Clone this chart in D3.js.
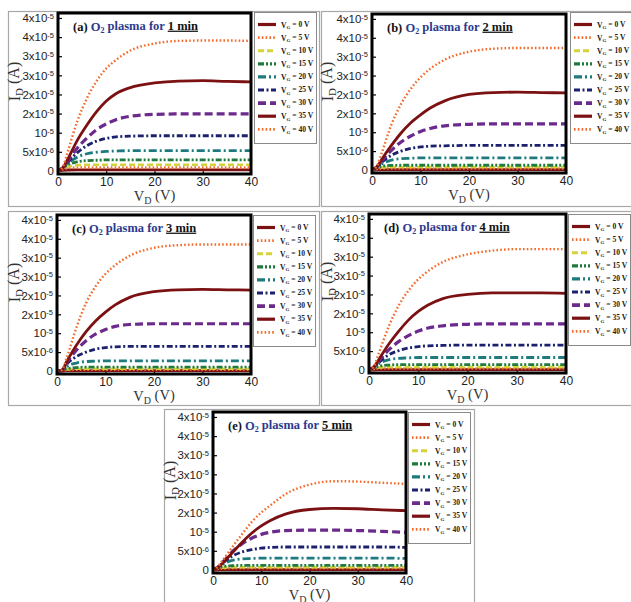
<!DOCTYPE html>
<html>
<head>
<meta charset="utf-8">
<script src="https://cdn.jsdelivr.net/npm/d3@7"></script>
<style>
  body { margin: 0; background: #fff; }
  text { font-family: "Liberation Sans", Arial, sans-serif; }
  .serif { font-family: "Liberation Serif", "Times New Roman", serif; }
</style>
</head>
<body>
<svg id="chart" width="631" height="602"></svg>
<script>
// drain voltage grid (V) and gate voltages
const VD = [0, 1, 2, 4, 6, 8, 10, 12, 15, 20, 25, 30, 35, 40];
const VG = [0, 5, 10, 15, 20, 25, 30, 35, 40];
const panelLetters = ["a", "b", "c", "d", "e"];
const plasmaMinutes = ["1", "2", "3", "4", "5"];
const xTicks = [0, 10, 20, 30, 40];
const yTicks = [0, 5, 10, 15, 20, 25, 30, 35, 40]; // µA
const yTickBase = ["0", "5x10", "10", "2x10", "2x10", "3x10", "3x10", "4x10", "4x10"];
const yTickExp = ["", "-6", "-5", "-5", "-5", "-5", "-5", "-5", "-5"];

// I_D in µA, one row per VG (0 .. 40 V)
const id1min = [
  [0, 0.15, 0.25, 0.3, 0.3, 0.3, 0.3, 0.3, 0.3, 0.3, 0.3, 0.3, 0.3, 0.3],
  [0, 0.4, 0.7, 0.9, 0.9, 0.9, 0.9, 0.9, 0.9, 0.9, 0.9, 0.9, 0.9, 0.9],
  [0, 0.6, 1.1, 1.5, 1.6, 1.6, 1.6, 1.6, 1.6, 1.6, 1.6, 1.6, 1.6, 1.6],
  [0, 0.8, 1.6, 2.4, 2.7, 2.8, 2.9, 2.9, 2.9, 2.9, 2.9, 2.9, 2.9, 2.9],
  [0, 0.8, 2.0, 3.6, 4.5, 4.9, 5.1, 5.2, 5.3, 5.3, 5.3, 5.3, 5.3, 5.3],
  [0, 0.8, 2.2, 4.8, 6.6, 7.8, 8.5, 8.9, 9.1, 9.2, 9.2, 9.2, 9.2, 9.2],
  [0, 0.8, 2.5, 6.0, 8.6, 10.8, 12.3, 13.4, 14.3, 14.8, 14.9, 14.9, 14.9, 14.9],
  [0, 0.8, 3.0, 8.0, 12.0, 15.5, 18.3, 20.2, 21.8, 23.0, 23.5, 23.6, 23.4, 23.3],
  [0, 1.0, 5.0, 13.0, 19.0, 23.5, 26.8, 29.0, 31.5, 33.3, 34.0, 34.1, 34.1, 34.0]
];
const id2min = [
  [0, 0.05, 0.1, 0.1, 0.1, 0.1, 0.1, 0.1, 0.1, 0.1, 0.1, 0.1, 0.1, 0.1],
  [0, 0.25, 0.35, 0.4, 0.4, 0.4, 0.4, 0.4, 0.4, 0.4, 0.4, 0.4, 0.4, 0.4],
  [0, 0.4, 0.65, 0.8, 0.8, 0.8, 0.8, 0.8, 0.8, 0.8, 0.8, 0.8, 0.8, 0.8],
  [0, 0.6, 1.0, 1.2, 1.25, 1.25, 1.25, 1.25, 1.25, 1.25, 1.25, 1.25, 1.25, 1.25],
  [0, 0.7, 1.6, 2.6, 3.0, 3.1, 3.2, 3.2, 3.2, 3.2, 3.2, 3.2, 3.2, 3.2],
  [0, 0.8, 2.0, 3.9, 5.0, 5.7, 6.1, 6.3, 6.4, 6.5, 6.5, 6.5, 6.5, 6.5],
  [0, 0.8, 2.4, 5.2, 7.4, 9.0, 10.2, 11.0, 11.7, 12.1, 12.2, 12.2, 12.2, 12.2],
  [0, 0.8, 2.8, 6.5, 9.8, 12.5, 14.6, 16.4, 18.3, 20.0, 20.5, 20.6, 20.5, 20.4],
  [0, 1.0, 4.5, 12.0, 17.5, 21.5, 24.5, 26.8, 29.2, 31.3, 32.1, 32.3, 32.3, 32.3]
];
const id3min = [
  [0, 0.0, 0.1, 0.1, 0.1, 0.1, 0.1, 0.1, 0.1, 0.1, 0.1, 0.1, 0.1, 0.1],
  [0, 0.05, 0.2, 0.3, 0.3, 0.3, 0.3, 0.3, 0.3, 0.3, 0.3, 0.3, 0.3, 0.3],
  [0, 0.1, 0.4, 0.6, 0.6, 0.6, 0.6, 0.6, 0.6, 0.6, 0.6, 0.6, 0.6, 0.6],
  [0, 0.1, 0.6, 0.9, 1.0, 1.0, 1.0, 1.0, 1.0, 1.0, 1.0, 1.0, 1.0, 1.0],
  [0, 0.2, 1.2, 2.1, 2.5, 2.6, 2.7, 2.7, 2.7, 2.7, 2.7, 2.7, 2.7, 2.7],
  [0, 0.2, 1.8, 3.8, 5.0, 5.8, 6.2, 6.4, 6.5, 6.5, 6.5, 6.5, 6.5, 6.5],
  [0, 0.2, 2.2, 5.5, 8.0, 9.8, 11.0, 11.8, 12.3, 12.5, 12.5, 12.5, 12.5, 12.5],
  [0, 0.2, 2.5, 6.8, 10.4, 13.3, 15.6, 17.5, 19.5, 21.0, 21.5, 21.6, 21.5, 21.4],
  [0, 0.3, 3.5, 11.5, 18.0, 22.5, 25.7, 28.0, 30.5, 32.6, 33.3, 33.5, 33.5, 33.5]
];
const id4min = [
  [0, 0.05, 0.1, 0.1, 0.1, 0.1, 0.1, 0.1, 0.1, 0.1, 0.1, 0.1, 0.1, 0.1],
  [0, 0.25, 0.35, 0.4, 0.4, 0.4, 0.4, 0.4, 0.4, 0.4, 0.4, 0.4, 0.4, 0.4],
  [0, 0.4, 0.65, 0.8, 0.8, 0.8, 0.8, 0.8, 0.8, 0.8, 0.8, 0.8, 0.8, 0.8],
  [0, 0.6, 1.0, 1.3, 1.4, 1.4, 1.4, 1.4, 1.4, 1.4, 1.4, 1.4, 1.4, 1.4],
  [0, 0.7, 1.7, 2.7, 3.1, 3.2, 3.3, 3.3, 3.3, 3.3, 3.3, 3.3, 3.3, 3.3],
  [0, 0.8, 2.0, 4.0, 5.1, 5.8, 6.2, 6.4, 6.5, 6.6, 6.6, 6.6, 6.6, 6.6],
  [0, 0.8, 2.4, 5.3, 7.5, 9.1, 10.3, 11.1, 11.7, 12.1, 12.2, 12.2, 12.2, 12.2],
  [0, 0.8, 2.8, 6.8, 10.2, 13.2, 15.5, 17.2, 18.9, 20.0, 20.4, 20.4, 20.4, 20.3],
  [0, 1.0, 4.5, 11.5, 17.0, 21.0, 24.0, 26.2, 28.6, 30.6, 31.6, 32.0, 32.0, 32.0]
];
const id5min = [
  [0, 0.05, 0.1, 0.1, 0.1, 0.1, 0.1, 0.1, 0.1, 0.1, 0.1, 0.1, 0.1, 0.1],
  [0, 0.25, 0.35, 0.4, 0.4, 0.4, 0.4, 0.4, 0.4, 0.4, 0.4, 0.4, 0.4, 0.4],
  [0, 0.4, 0.6, 0.7, 0.7, 0.7, 0.7, 0.7, 0.7, 0.7, 0.7, 0.7, 0.7, 0.7],
  [0, 0.6, 0.9, 1.1, 1.2, 1.2, 1.2, 1.2, 1.2, 1.2, 1.2, 1.2, 1.2, 1.2],
  [0, 0.7, 1.5, 2.5, 2.9, 3.0, 3.1, 3.1, 3.1, 3.1, 3.1, 3.1, 3.1, 3.0],
  [0, 0.7, 1.8, 3.6, 4.7, 5.3, 5.7, 5.9, 6.0, 6.0, 6.0, 6.0, 6.0, 5.9],
  [0, 0.7, 2.0, 4.8, 6.8, 8.3, 9.3, 9.9, 10.3, 10.4, 10.4, 10.3, 10.1, 9.8],
  [0, 0.6, 1.8, 4.5, 7.2, 9.6, 11.5, 13.0, 14.6, 15.8, 16.1, 16.0, 15.7, 15.5],
  [0, 0.8, 2.5, 6.0, 9.3, 12.5, 15.0, 17.0, 19.8, 22.3, 23.2, 23.1, 22.8, 22.5]
];
const panelData = [id1min, id2min, id3min, id4min, id5min];

// layout: outer frame and plot box per panel
const frames = [
  { fx: 8, fy: 11, fw: 311, fh: 195, bx: 58, by: 13, bw: 193, bh: 161, lx: 254, ly: 12 },
  { fx: 321, fy: 11, fw: 312, fh: 195, bx: 372, by: 14, bw: 194, bh: 159, lx: 570, ly: 12 },
  { fx: 8, fy: 211, fw: 311, fh: 194, bx: 57, by: 215, bw: 194, bh: 159, lx: 253, ly: 215 },
  { fx: 321, fy: 211, fw: 312, fh: 194, bx: 369, by: 214, bw: 197, bh: 159, lx: 568, ly: 214 },
  { fx: 164, fy: 409, fw: 310, fh: 195, bx: 213, by: 412, bw: 193, bh: 161, lx: 408, ly: 412 }
];

const seriesColor = ["#7b1113", "#f26b2a", "#d6d23a", "#1f7b3b", "#1e7b7d", "#1c216e", "#6b2a8c", "#7b1113", "#f26b2a"];
const seriesDash = [null, "1.6,2.2", "6,3", "6,2,2,2,2,2", "8,3,2,3", "6,2.5,2,2.5", "8,4", null, "1.6,2.2"];
const seriesWidth = [2.8, 2.4, 2.6, 2.8, 2.8, 2.8, 3.2, 2.8, 2.4];

const svg = d3.select("#chart");

function addSub(sel, main, sub, rest, subSize) {
  sel.append("tspan").text(main);
  sel.append("tspan").attr("dy", "0.3em").attr("font-size", subSize).text(sub);
  sel.append("tspan").attr("dy", "-0.3em").text(rest);
}

frames.forEach((f, p) => {
  const g = svg.append("g");
  const data = panelData[p];

  g.append("rect")
    .attr("x", f.fx + 0.5).attr("y", f.fy + 0.5)
    .attr("width", f.fw).attr("height", f.fh)
    .attr("fill", "#fff").attr("stroke", "#a8a8a8").attr("stroke-width", 1.2);

  const x = d3.scaleLinear().domain([0, 40]).range([f.bx, f.bx + f.bw]);
  const y = d3.scaleLinear().domain([-0.8, 41.3]).range([f.by + f.bh, f.by]);

  const clipId = "clip" + p;
  g.append("clipPath").attr("id", clipId)
    .append("rect").attr("x", f.bx).attr("y", f.by).attr("width", f.bw).attr("height", f.bh);

  // axes
  const xAxis = g.append("g")
    .attr("transform", `translate(0,${f.by + f.bh})`)
    .call(d3.axisBottom(x).tickValues(xTicks).tickSize(-4).tickPadding(3));
  xAxis.select(".domain").remove();
  xAxis.selectAll("line").attr("stroke", "#000").attr("stroke-width", 1.2);
  xAxis.selectAll("text").attr("font-size", 12).attr("fill", "#222");

  const yAxis = g.append("g")
    .attr("transform", `translate(${f.bx},0)`)
    .call(d3.axisLeft(y).tickValues(yTicks).tickSize(-4).tickPadding(4).tickFormat(""));
  yAxis.select(".domain").remove();
  yAxis.selectAll("line").attr("stroke", "#000").attr("stroke-width", 1.2);
  yAxis.selectAll(".tick text").each(function (d, i) {
    const t = d3.select(this).attr("font-size", 11.5).attr("fill", "#222");
    t.append("tspan").text(yTickBase[i]);
    if (yTickExp[i]) {
      t.append("tspan").attr("dy", "-0.45em").attr("font-size", 7.5).text(yTickExp[i]);
    }
  });

  // curves
  const line = d3.line()
    .x((d, i) => x(VD[i]))
    .y(d => y(d))
    .curve(d3.curveMonotoneX);

  g.append("g").attr("clip-path", `url(#${clipId})`)
    .selectAll("path")
    .data(data)
    .join("path")
    .attr("d", line)
    .attr("fill", "none")
    .attr("stroke", (d, i) => seriesColor[i])
    .attr("stroke-width", (d, i) => seriesWidth[i])
    .attr("stroke-dasharray", (d, i) => seriesDash[i]);

  // plot box
  g.append("rect")
    .attr("x", f.bx).attr("y", f.by).attr("width", f.bw).attr("height", f.bh)
    .attr("fill", "none").attr("stroke", "#000").attr("stroke-width", 3);

  // title
  const title = g.append("text").attr("class", "serif")
    .attr("x", f.bx + 15).attr("y", f.by + 18)
    .attr("font-size", 12.5).attr("font-weight", "bold");
  title.append("tspan").attr("fill", "#111").text(`(${panelLetters[p]})  `);
  title.append("tspan").attr("fill", "#2d3a8c").text("O");
  title.append("tspan").attr("fill", "#2d3a8c").attr("dy", "0.3em").attr("font-size", 8).text("2");
  title.append("tspan").attr("fill", "#2d3a8c").attr("dy", "-0.3em").text(" plasma for ");
  title.append("tspan").attr("fill", "#111").attr("text-decoration", "underline").text(`${plasmaMinutes[p]} min`);

  // axis titles
  const xt = g.append("text").attr("class", "serif")
    .attr("x", f.bx + f.bw / 2).attr("y", f.by + f.bh + 27)
    .attr("text-anchor", "middle").attr("font-size", 14.5).attr("fill", "#333");
  addSub(xt, "V", "D", " (V)", 10);

  const yt = g.append("text").attr("class", "serif")
    .attr("transform", `translate(${f.fx + 12},${f.by + f.bh / 2 - 12}) rotate(-90)`)
    .attr("text-anchor", "middle").attr("font-size", 16).attr("fill", "#333");
  addSub(yt, "I", "D", " (A)", 11);

  // legend
  const lg = g.append("g").attr("transform", `translate(${f.lx},${f.ly})`);
  lg.append("rect").attr("x", 0.5).attr("y", 0.5).attr("width", 62).attr("height", 131)
    .attr("fill", "#fff").attr("stroke", "#8a8a8a").attr("stroke-width", 1);
  VG.forEach((v, i) => {
    const yy = 12.5 + i * 13.1;
    lg.append("line")
      .attr("x1", 4).attr("x2", 22).attr("y1", yy).attr("y2", yy)
      .attr("stroke", seriesColor[i]).attr("stroke-width", seriesWidth[i] + 0.4)
      .attr("stroke-dasharray", seriesDash[i]);
    const lt = lg.append("text").attr("class", "serif")
      .attr("x", 27).attr("y", yy + 3)
      .attr("font-size", 7.6).attr("font-weight", "bold").attr("fill", "#222");
    addSub(lt, "V", "G", ` = ${v} V`, 5);
  });
});
</script>
</body>
</html>
